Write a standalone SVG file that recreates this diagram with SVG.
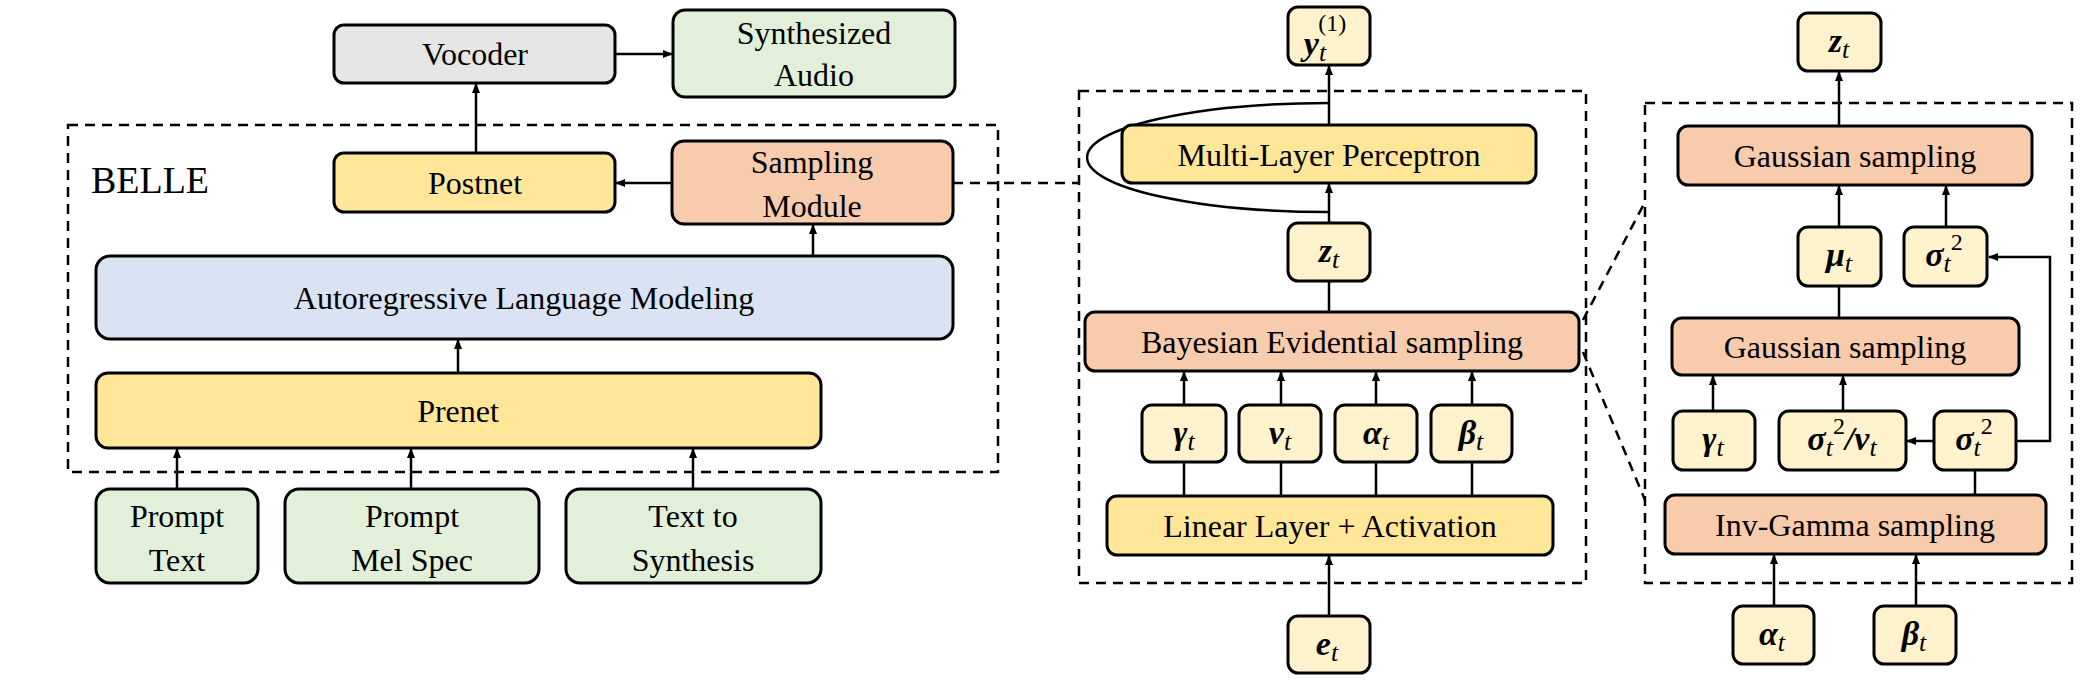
<svg xmlns="http://www.w3.org/2000/svg" width="2100" height="682" viewBox="0 0 2100 682">
<defs>
<marker id="ar" markerWidth="10" markerHeight="10" refX="9" refY="5" orient="auto" markerUnits="userSpaceOnUse"><path d="M0,1 L10,5 L0,9 z" fill="#000"/></marker>
<style>
rect{stroke:#000;stroke-width:3}
.y{fill:#FFE699}.ly{fill:#FFF2CC}.o{fill:#F8CBAD}.b{fill:#DAE3F3}.g{fill:#E2F0D9}.gr{fill:#E7E6E6}
text{font-family:"Liberation Serif",serif;font-size:32px;text-anchor:middle;fill:#000}
.m{font-weight:bold;font-style:italic;font-size:34px}
.s{font-weight:normal;font-style:italic;font-size:26px}
.sp{font-weight:normal;font-style:normal;font-size:24px}
.c path,.c line{stroke:#000;stroke-width:2.5;fill:none}
.d{stroke:#000;stroke-width:2.5;fill:none;stroke-dasharray:10,7}
</style>
</defs>
<g id="frames">
<rect x="68" y="125" width="930" height="347" fill="none" stroke-dasharray="10,7" style="stroke-width:2.5"/>
<rect x="1079" y="91" width="507" height="492" fill="none" stroke-dasharray="10,7" style="stroke-width:2.5"/>
<rect x="1645" y="103" width="427" height="480" fill="none" stroke-dasharray="10,7" style="stroke-width:2.5"/>
<text x="150" y="193" style="font-size:38px">BELLE</text>
</g>
<g class="c" id="connectors">
<line x1="615" y1="54" x2="672" y2="54" marker-end="url(#ar)"/>
<line x1="476" y1="153" x2="476" y2="84" marker-end="url(#ar)"/>
<line x1="672" y1="183" x2="616" y2="183" marker-end="url(#ar)"/>
<line x1="813" y1="256" x2="813" y2="225" marker-end="url(#ar)"/>
<line x1="458" y1="373" x2="458" y2="340" marker-end="url(#ar)"/>
<line x1="177" y1="489" x2="177" y2="449" marker-end="url(#ar)"/>
<line x1="411" y1="489" x2="411" y2="449" marker-end="url(#ar)"/>
<line x1="693" y1="489" x2="693" y2="449" marker-end="url(#ar)"/>
<path class="d" d="M953,183 L1079,183"/>
<path class="d" d="M1583,320 L1645,202"/>
<path class="d" d="M1583,352 L1645,500"/>
<line x1="1329" y1="125" x2="1329" y2="66" marker-end="url(#ar)"/>
<path d="M1329,103 A242,54.5 0 0 0 1329,212"/>
<line x1="1329" y1="223" x2="1329" y2="184" marker-end="url(#ar)"/>
<line x1="1329" y1="312" x2="1329" y2="281"/>
<line x1="1184" y1="405" x2="1184" y2="372" marker-end="url(#ar)"/>
<line x1="1281" y1="405" x2="1281" y2="372" marker-end="url(#ar)"/>
<line x1="1376" y1="405" x2="1376" y2="372" marker-end="url(#ar)"/>
<line x1="1472" y1="405" x2="1472" y2="372" marker-end="url(#ar)"/>
<line x1="1184" y1="496" x2="1184" y2="462"/>
<line x1="1281" y1="496" x2="1281" y2="462"/>
<line x1="1376" y1="496" x2="1376" y2="462"/>
<line x1="1472" y1="496" x2="1472" y2="462"/>
<line x1="1329" y1="616" x2="1329" y2="556" marker-end="url(#ar)"/>
<line x1="1839" y1="126" x2="1839" y2="72" marker-end="url(#ar)"/>
<line x1="1839" y1="227" x2="1839" y2="186" marker-end="url(#ar)"/>
<line x1="1946" y1="227" x2="1946" y2="186" marker-end="url(#ar)"/>
<line x1="1839" y1="318" x2="1839" y2="286"/>
<line x1="1713" y1="411" x2="1713" y2="376" marker-end="url(#ar)"/>
<line x1="1843" y1="411" x2="1843" y2="376" marker-end="url(#ar)"/>
<line x1="1934" y1="441" x2="1907" y2="441" marker-end="url(#ar)"/>
<path d="M2016,441 L2050,441 L2050,257 L1989,257" marker-end="url(#ar)"/>
<line x1="1975" y1="495" x2="1975" y2="470"/>
<line x1="1774" y1="606" x2="1774" y2="555" marker-end="url(#ar)"/>
<line x1="1916" y1="606" x2="1916" y2="555" marker-end="url(#ar)"/>
</g>
<g id="vocoder"><rect class="gr" x="334" y="25" width="281" height="58" rx="10"/><text x="475" y="65">Vocoder</text></g>
<g id="synth"><rect class="g" x="673" y="10" width="282" height="87" rx="12"/><text x="814" y="44">Synthesized</text><text x="814" y="86">Audio</text></g>
<g id="postnet"><rect class="y" x="334" y="153" width="281" height="59" rx="10"/><text x="475" y="194">Postnet</text></g>
<g id="sampling"><rect class="o" x="672" y="141" width="281" height="83" rx="12"/><text x="812" y="173">Sampling</text><text x="812" y="217">Module</text></g>
<g id="alm"><rect class="b" x="96" y="256" width="857" height="83" rx="14"/><text x="524" y="309">Autoregressive Language Modeling</text></g>
<g id="prenet"><rect class="y" x="96" y="373" width="725" height="75" rx="12"/><text x="458" y="422">Prenet</text></g>
<g id="prompttext"><rect class="g" x="96" y="489" width="162" height="94" rx="14"/><text x="177" y="527">Prompt</text><text x="177" y="571">Text</text></g>
<g id="promptmel"><rect class="g" x="285" y="489" width="254" height="94" rx="14"/><text x="412" y="527">Prompt</text><text x="412" y="571">Mel Spec</text></g>
<g id="tts"><rect class="g" x="566" y="489" width="255" height="94" rx="14"/><text x="693" y="527">Text to</text><text x="693" y="571">Synthesis</text></g>

<g id="y1"><rect class="ly" x="1288" y="7" width="82" height="58" rx="10"/><text class="m" x="1325" y="55">y<tspan class="s" dy="6">t</tspan><tspan class="sp" dx="-8" dy="-30">(1)</tspan></text></g>
<g id="mlp"><rect class="y" x="1122" y="125" width="414" height="58" rx="10"/><text x="1329" y="166">Multi-Layer Perceptron</text></g>
<g id="zt1"><rect class="ly" x="1288" y="223" width="82" height="58" rx="10"/><text class="m" x="1329" y="262">z<tspan class="s" dy="6">t</tspan></text></g>
<g id="bes"><rect class="o" x="1085" y="312" width="494" height="59" rx="10"/><text x="1332" y="353">Bayesian Evidential sampling</text></g>
<g id="g1"><rect class="ly" x="1142" y="405" width="84" height="57" rx="10"/><text class="m" x="1184" y="444">γ<tspan class="s" dy="6">t</tspan></text></g>
<g id="n1"><rect class="ly" x="1239" y="405" width="82" height="57" rx="10"/><text class="m" x="1280" y="444">ν<tspan class="s" dy="6">t</tspan></text></g>
<g id="a1"><rect class="ly" x="1335" y="405" width="82" height="57" rx="10"/><text class="m" x="1376" y="444">α<tspan class="s" dy="6">t</tspan></text></g>
<g id="b1"><rect class="ly" x="1431" y="405" width="81" height="57" rx="10"/><text class="m" x="1471" y="444">β<tspan class="s" dy="6">t</tspan></text></g>
<g id="linear"><rect class="y" x="1107" y="496" width="446" height="59" rx="10"/><text x="1330" y="537">Linear Layer + Activation</text></g>
<g id="et"><rect class="ly" x="1288" y="616" width="82" height="57" rx="10"/><text class="m" x="1327" y="655">e<tspan class="s" dy="6">t</tspan></text></g>

<g id="zt2"><rect class="ly" x="1798" y="13" width="83" height="58" rx="10"/><text class="m" x="1839" y="52">z<tspan class="s" dy="6">t</tspan></text></g>
<g id="gauss1"><rect class="o" x="1678" y="126" width="354" height="59" rx="10"/><text x="1855" y="167">Gaussian sampling</text></g>
<g id="mu"><rect class="ly" x="1798" y="227" width="83" height="59" rx="10"/><text class="m" x="1839" y="266">μ<tspan class="s" dy="6">t</tspan></text></g>
<g id="sig1"><rect class="ly" x="1904" y="227" width="83" height="59" rx="10"/><text class="m" x="1944" y="266">σ<tspan class="s" dy="6">t</tspan><tspan class="sp" dy="-22">2</tspan></text></g>
<g id="gauss2"><rect class="o" x="1672" y="318" width="347" height="57" rx="10"/><text x="1845" y="358">Gaussian sampling</text></g>
<g id="g2"><rect class="ly" x="1673" y="411" width="82" height="59" rx="10"/><text class="m" x="1713" y="450">γ<tspan class="s" dy="6">t</tspan></text></g>
<g id="signu"><rect class="ly" x="1779" y="411" width="127" height="59" rx="10"/><text class="m" x="1842" y="450">σ<tspan class="s" dy="6">t</tspan><tspan class="sp" dy="-22">2</tspan><tspan dy="16">/ν</tspan><tspan class="s" dy="6">t</tspan></text></g>
<g id="sig2"><rect class="ly" x="1934" y="411" width="82" height="59" rx="10"/><text class="m" x="1974" y="450">σ<tspan class="s" dy="6">t</tspan><tspan class="sp" dy="-22">2</tspan></text></g>
<g id="invgamma"><rect class="o" x="1665" y="495" width="381" height="59" rx="10"/><text x="1855" y="536">Inv-Gamma sampling</text></g>
<g id="a2"><rect class="ly" x="1733" y="606" width="81" height="58" rx="10"/><text class="m" x="1772" y="645">α<tspan class="s" dy="6">t</tspan></text></g>
<g id="b2"><rect class="ly" x="1874" y="606" width="82" height="58" rx="10"/><text class="m" x="1914" y="645">β<tspan class="s" dy="6">t</tspan></text></g>
</svg>
